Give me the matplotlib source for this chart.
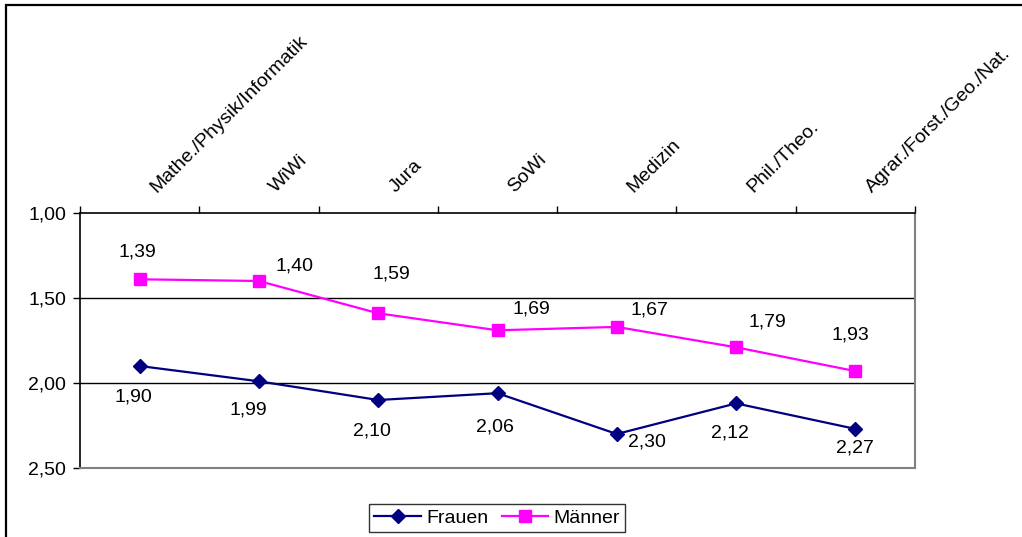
import numpy as np
import matplotlib
matplotlib.use("Agg")
import matplotlib.pyplot as plt
from matplotlib.patches import Rectangle
from matplotlib.lines import Line2D
from matplotlib.transforms import blended_transform_factory, ScaledTranslation

plt.rcParams['font.family'] = ['Liberation Sans', 'DejaVu Sans']

categories = ["Mathe./Physik/Informatik", "WiWi", "Jura", "SoWi", "Medizin",
              "Phil./Theo.", "Agrar./Forst./Geo./Nat."]
frauen = [1.90, 1.99, 2.10, 2.06, 2.30, 2.12, 2.27]
maenner = [1.39, 1.40, 1.59, 1.69, 1.67, 1.79, 1.93]
y_ticks = [1.00, 1.50, 2.00, 2.50]

# label placement (pixels relative to each point)
maenner_off = [(-2, 27), (36, 15), (13, 39), (34, 21), (33, 17), (31, 25), (-5, 36)]
frauen_off = [(-6, -31), (-11, -29), (-6, -31), (-3, -34), (30, -8), (-6, -30), (0, -19)]

W, H = 1022, 537
fig = plt.figure(figsize=(W / 100, H / 100), dpi=100)
ax = fig.add_axes([80 / W, (H - 468) / H, 835 / W, 255 / H])

x = np.arange(len(categories)) + 0.5
fs = 14


def fmt(v):
    return f"{v:.2f}".replace('.', ',')


ax.plot(x, frauen, color='#000080', lw=1.6, marker='D', ms=7,
        mfc='#000080', mec='#000080', zorder=4, clip_on=False)
ax.plot(x, maenner, color='#FF00FF', lw=1.6, marker='s', ms=9,
        mfc='#FF00FF', mec='#FF00FF', zorder=4, clip_on=False)

for xi, v, off in zip(x, maenner, maenner_off):
    ax.annotate(fmt(v), (xi, v), xytext=off, textcoords='offset pixels',
                ha='center', va='center', fontsize=fs)
for xi, v, off in zip(x, frauen, frauen_off):
    ax.annotate(fmt(v), (xi, v), xytext=off, textcoords='offset pixels',
                ha='center', va='center', fontsize=fs)

ax.set_xlim(0, len(categories))
ax.set_ylim(2.5, 1.0)
ax.set_yticks(y_ticks, labels=[fmt(t) for t in y_ticks])
ax.tick_params(axis='y', direction='out', length=5, width=1, labelsize=fs, pad=5)

# category boundaries as ticks on the top axis
ax.set_xticks(np.arange(len(categories) + 1))
ax.xaxis.set_ticks_position('top')
ax.tick_params(axis='x', which='major', direction='out', length=5, width=1,
               top=True, bottom=False, labeltop=False, labelbottom=False)

# rotated category names above the plot
trans = blended_transform_factory(ax.transData, ax.transAxes) + \
    ScaledTranslation(17 / 100, 20 / 100, fig.dpi_scale_trans)
for xi, name in zip(x, categories):
    ax.text(xi, 1.0, name, transform=trans, rotation=45, rotation_mode='anchor',
            ha='left', va='baseline', fontsize=fs, clip_on=False)

for t in (1.5, 2.0):
    ax.axhline(t, color='black', lw=1, zorder=1)

ax.spines['left'].set_color('black')
ax.spines['top'].set_color('black')
ax.spines['left'].set_linewidth(1.2)
ax.spines['top'].set_linewidth(1.2)
ax.spines['right'].set_color('#808080')
ax.spines['bottom'].set_color('#808080')
ax.spines['right'].set_linewidth(1.5)
ax.spines['bottom'].set_linewidth(1.5)

handles = [
    Line2D([], [], color='#000080', lw=1.6, marker='D', ms=7),
    Line2D([], [], color='#FF00FF', lw=1.6, marker='s', ms=9),
]
leg = fig.legend(handles, ["Frauen", "Männer"], loc='center',
                 bbox_to_anchor=(497 / W, 1 - 518 / H), ncol=2, fontsize=fs,
                 frameon=True, fancybox=False, edgecolor='black',
                 handlelength=2.4, handletextpad=0.25, columnspacing=0.7,
                 borderpad=0.28, borderaxespad=0)
leg.get_frame().set_linewidth(1)

fig.patches.append(Rectangle((6 / W, -0.2), 1.2, 1.2 - 5 / H,
                             transform=fig.transFigure, fill=False,
                             edgecolor='black', lw=1.6, clip_on=False))

fig.savefig("out.png", dpi=100)
